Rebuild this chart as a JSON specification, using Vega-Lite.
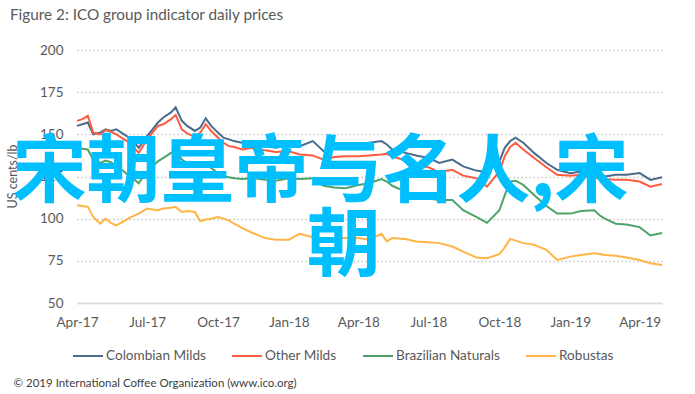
{
  "$schema": "https://vega.github.io/schema/vega-lite/v6.json",
  "width": 585,
  "height": 253,
  "autosize": {"type": "none"},
  "padding": {"left": 77, "top": 50, "right": 33, "bottom": 91},
  "background": "white",
  "config": {"view": {"stroke": null}, "font": "Lato"},
  "title": {
    "text": "Figure 2: ICO group indicator daily prices",
    "anchor": "start",
    "frame": "group",
    "dx": -67,
    "offset": 20,
    "fontSize": 15.3,
    "fontWeight": "normal",
    "color": "#595959",
    "font": "Lato"
  },
  "layer": [
    {
      "data": {
        "values": [
          {"date": "2017-04-01", "Colombian Milds": 155, "Other Milds": 158, "Brazilian Naturals": 142, "Robustas": 108},
          {"date": "2017-04-08", "Colombian Milds": 156, "Other Milds": 159, "Brazilian Naturals": 141.5, "Robustas": 107.5},
          {"date": "2017-04-15", "Colombian Milds": 157, "Other Milds": 161, "Brazilian Naturals": 141, "Robustas": 107},
          {"date": "2017-04-22", "Colombian Milds": 150, "Other Milds": 151, "Brazilian Naturals": 135, "Robustas": 101},
          {"date": "2017-05-01", "Colombian Milds": 151, "Other Milds": 150, "Brazilian Naturals": 133, "Robustas": 97},
          {"date": "2017-05-08", "Colombian Milds": 153, "Other Milds": 152.5, "Brazilian Naturals": 134.5, "Robustas": 100},
          {"date": "2017-05-15", "Colombian Milds": 152, "Other Milds": 151.5, "Brazilian Naturals": 133.5, "Robustas": 97.5},
          {"date": "2017-05-22", "Colombian Milds": 153, "Other Milds": 150, "Brazilian Naturals": 131, "Robustas": 96},
          {"date": "2017-06-01", "Colombian Milds": 150, "Other Milds": 147, "Brazilian Naturals": 128, "Robustas": 98.5},
          {"date": "2017-06-08", "Colombian Milds": 148, "Other Milds": 145, "Brazilian Naturals": 125, "Robustas": 100.5},
          {"date": "2017-06-15", "Colombian Milds": 145, "Other Milds": 141.5, "Brazilian Naturals": 123, "Robustas": 102},
          {"date": "2017-06-20", "Colombian Milds": 142, "Other Milds": 139, "Brazilian Naturals": 121, "Robustas": 103},
          {"date": "2017-07-01", "Colombian Milds": 149, "Other Milds": 147, "Brazilian Naturals": 128, "Robustas": 106},
          {"date": "2017-07-08", "Colombian Milds": 153, "Other Milds": 151, "Brazilian Naturals": 131, "Robustas": 105.5},
          {"date": "2017-07-15", "Colombian Milds": 157, "Other Milds": 155, "Brazilian Naturals": 134, "Robustas": 105},
          {"date": "2017-07-22", "Colombian Milds": 160, "Other Milds": 156, "Brazilian Naturals": 136, "Robustas": 106},
          {"date": "2017-08-01", "Colombian Milds": 163, "Other Milds": 159, "Brazilian Naturals": 139, "Robustas": 106.5},
          {"date": "2017-08-07", "Colombian Milds": 166, "Other Milds": 161.5, "Brazilian Naturals": 140.5, "Robustas": 107},
          {"date": "2017-08-15", "Colombian Milds": 158, "Other Milds": 153, "Brazilian Naturals": 135, "Robustas": 104},
          {"date": "2017-08-22", "Colombian Milds": 155, "Other Milds": 150.5, "Brazilian Naturals": 133, "Robustas": 104.5},
          {"date": "2017-09-01", "Colombian Milds": 152, "Other Milds": 148.5, "Brazilian Naturals": 131, "Robustas": 104},
          {"date": "2017-09-08", "Colombian Milds": 154, "Other Milds": 151, "Brazilian Naturals": 132, "Robustas": 98.5},
          {"date": "2017-09-15", "Colombian Milds": 159.5, "Other Milds": 156, "Brazilian Naturals": 133, "Robustas": 99.5},
          {"date": "2017-09-22", "Colombian Milds": 155, "Other Milds": 152, "Brazilian Naturals": 130, "Robustas": 100},
          {"date": "2017-10-01", "Colombian Milds": 151, "Other Milds": 148, "Brazilian Naturals": 127, "Robustas": 101},
          {"date": "2017-10-08", "Colombian Milds": 148, "Other Milds": 145, "Brazilian Naturals": 125.5, "Robustas": 100},
          {"date": "2017-10-15", "Colombian Milds": 147, "Other Milds": 143, "Brazilian Naturals": 124.5, "Robustas": 99},
          {"date": "2017-10-22", "Colombian Milds": 146, "Other Milds": 142.5, "Brazilian Naturals": 124, "Robustas": 97},
          {"date": "2017-11-01", "Colombian Milds": 145, "Other Milds": 141, "Brazilian Naturals": 123.5, "Robustas": 94.5},
          {"date": "2017-11-15", "Colombian Milds": 145, "Other Milds": 142, "Brazilian Naturals": 124, "Robustas": 91.5},
          {"date": "2017-12-01", "Colombian Milds": 143, "Other Milds": 140.5, "Brazilian Naturals": 123, "Robustas": 88.5},
          {"date": "2017-12-15", "Colombian Milds": 142, "Other Milds": 139.5, "Brazilian Naturals": 122.5, "Robustas": 87.5},
          {"date": "2018-01-01", "Colombian Milds": 144, "Other Milds": 140, "Brazilian Naturals": 124, "Robustas": 87.5},
          {"date": "2018-01-15", "Colombian Milds": 143, "Other Milds": 138, "Brazilian Naturals": 123.5, "Robustas": 91},
          {"date": "2018-02-01", "Colombian Milds": 146, "Other Milds": 137.5, "Brazilian Naturals": 124, "Robustas": 89},
          {"date": "2018-02-15", "Colombian Milds": 140, "Other Milds": 135, "Brazilian Naturals": 119.5, "Robustas": 88},
          {"date": "2018-03-01", "Colombian Milds": 142, "Other Milds": 136.5, "Brazilian Naturals": 118.5, "Robustas": 88.5},
          {"date": "2018-03-15", "Colombian Milds": 143, "Other Milds": 137, "Brazilian Naturals": 118, "Robustas": 88.5},
          {"date": "2018-04-01", "Colombian Milds": 143, "Other Milds": 137, "Brazilian Naturals": 120, "Robustas": 88.5},
          {"date": "2018-04-15", "Colombian Milds": 145, "Other Milds": 137.5, "Brazilian Naturals": 121, "Robustas": 87.5},
          {"date": "2018-05-01", "Colombian Milds": 146, "Other Milds": 138, "Brazilian Naturals": 123.5, "Robustas": 91},
          {"date": "2018-05-08", "Colombian Milds": 144, "Other Milds": 138.5, "Brazilian Naturals": 122, "Robustas": 86.5},
          {"date": "2018-05-15", "Colombian Milds": 141, "Other Milds": 137, "Brazilian Naturals": 119.5, "Robustas": 88.5},
          {"date": "2018-06-01", "Colombian Milds": 139, "Other Milds": 134.5, "Brazilian Naturals": 116, "Robustas": 88},
          {"date": "2018-06-15", "Colombian Milds": 137.5, "Other Milds": 132, "Brazilian Naturals": 113, "Robustas": 86.5},
          {"date": "2018-07-01", "Colombian Milds": 136, "Other Milds": 130.5, "Brazilian Naturals": 112, "Robustas": 86},
          {"date": "2018-07-15", "Colombian Milds": 133, "Other Milds": 127.5, "Brazilian Naturals": 111, "Robustas": 85.5},
          {"date": "2018-08-01", "Colombian Milds": 135, "Other Milds": 129, "Brazilian Naturals": 111, "Robustas": 83.5},
          {"date": "2018-08-15", "Colombian Milds": 131, "Other Milds": 125.5, "Brazilian Naturals": 105, "Robustas": 80.5},
          {"date": "2018-09-01", "Colombian Milds": 128.5, "Other Milds": 124, "Brazilian Naturals": 101, "Robustas": 77},
          {"date": "2018-09-15", "Colombian Milds": 127.5, "Other Milds": 119, "Brazilian Naturals": 97.5, "Robustas": 76.5},
          {"date": "2018-10-01", "Colombian Milds": 134, "Other Milds": 128, "Brazilian Naturals": 105, "Robustas": 79},
          {"date": "2018-10-08", "Colombian Milds": 142, "Other Milds": 137, "Brazilian Naturals": 114, "Robustas": 83},
          {"date": "2018-10-15", "Colombian Milds": 146, "Other Milds": 142.5, "Brazilian Naturals": 122, "Robustas": 88},
          {"date": "2018-10-22", "Colombian Milds": 148, "Other Milds": 145, "Brazilian Naturals": 122.5, "Robustas": 87},
          {"date": "2018-11-01", "Colombian Milds": 145, "Other Milds": 141, "Brazilian Naturals": 120, "Robustas": 85.5},
          {"date": "2018-11-15", "Colombian Milds": 139, "Other Milds": 136, "Brazilian Naturals": 114, "Robustas": 84.5},
          {"date": "2018-12-01", "Colombian Milds": 133, "Other Milds": 130.5, "Brazilian Naturals": 107.5, "Robustas": 81.5},
          {"date": "2018-12-15", "Colombian Milds": 129, "Other Milds": 126, "Brazilian Naturals": 103, "Robustas": 75.5},
          {"date": "2019-01-01", "Colombian Milds": 127, "Other Milds": 125.5, "Brazilian Naturals": 103, "Robustas": 77.5},
          {"date": "2019-01-15", "Colombian Milds": 128, "Other Milds": 126, "Brazilian Naturals": 104.5, "Robustas": 78.5},
          {"date": "2019-02-01", "Colombian Milds": 126, "Other Milds": 124, "Brazilian Naturals": 105, "Robustas": 79.5},
          {"date": "2019-02-08", "Colombian Milds": 125.5, "Other Milds": 124.5, "Brazilian Naturals": 102, "Robustas": 79},
          {"date": "2019-02-15", "Colombian Milds": 125, "Other Milds": 123.5, "Brazilian Naturals": 100, "Robustas": 78.5},
          {"date": "2019-03-01", "Colombian Milds": 126, "Other Milds": 123, "Brazilian Naturals": 97, "Robustas": 78},
          {"date": "2019-03-15", "Colombian Milds": 126, "Other Milds": 123, "Brazilian Naturals": 96.5, "Robustas": 77},
          {"date": "2019-04-01", "Colombian Milds": 127, "Other Milds": 122, "Brazilian Naturals": 95, "Robustas": 75.5},
          {"date": "2019-04-15", "Colombian Milds": 123, "Other Milds": 119, "Brazilian Naturals": 90, "Robustas": 73.5},
          {"date": "2019-04-30", "Colombian Milds": 124.5, "Other Milds": 120.5, "Brazilian Naturals": 91.5, "Robustas": 72.5}
        ]
      },
      "transform": [
        {"fold": ["Colombian Milds", "Other Milds", "Brazilian Naturals", "Robustas"], "as": ["series", "price"]}
      ],
      "mark": {"type": "line", "strokeWidth": 2},
      "encoding": {
        "x": {
          "field": "date",
          "type": "temporal",
          "title": "© 2019 International Coffee Organization (www.ico.org)",
          "scale": {
            "type": "utc",
            "domain": [
              {"year": 2017, "month": 4, "date": 1, "utc": true},
              {"year": 2019, "month": 4, "date": 30, "utc": true}
            ]
          },
          "axis": {
            "values": [
              {"year": 2017, "month": 4, "date": 1, "utc": true},
              {"year": 2017, "month": 7, "date": 1, "utc": true},
              {"year": 2017, "month": 10, "date": 1, "utc": true},
              {"year": 2018, "month": 1, "date": 1, "utc": true},
              {"year": 2018, "month": 4, "date": 1, "utc": true},
              {"year": 2018, "month": 7, "date": 1, "utc": true},
              {"year": 2018, "month": 10, "date": 1, "utc": true},
              {"year": 2019, "month": 1, "date": 1, "utc": true},
              {"year": 2019, "month": 4, "date": 1, "utc": true}
            ],
            "format": "%b-%y",
            "labelFlush": false,
            "labelOverlap": false,
            "grid": false,
            "ticks": false,
            "tickSize": 0,
            "domain": true,
            "domainColor": "#D9D9D9",
            "domainWidth": 1.5,
            "labelPadding": 12,
            "labelFontSize": 13.5,
            "labelColor": "#595959",
            "labelFont": "Lato",
            "titleX": -64,
            "titleY": 80,
            "titleAlign": "left",
            "titleBaseline": "middle",
            "titleFont": "Lato",
            "titleFontSize": 11.5,
            "titleFontWeight": "normal",
            "titleColor": "#404040"
          }
        },
        "y": {
          "field": "price",
          "type": "quantitative",
          "title": "US cents/lb",
          "scale": {"domain": [50, 200], "nice": false, "zero": false},
          "axis": {
            "values": [50, 75, 100, 125, 150, 175, 200],
            "grid": true,
            "gridDash": [1.5, 2.5],
            "gridColor": "#C4C4C4",
            "gridWidth": 1.3,
            "domain": false,
            "ticks": false,
            "tickSize": 0,
            "labelPadding": 14,
            "labelFontSize": 13.5,
            "labelColor": "#595959",
            "labelFont": "Lato",
            "titleFont": "Lato",
            "titleFontSize": 12.5,
            "titleFontWeight": "normal",
            "titleColor": "#595959",
            "titleX": -65,
            "titleY": 126,
            "titleAngle": -90,
            "titleAlign": "center",
            "titleBaseline": "middle"
          }
        },
        "color": {
          "field": "series",
          "type": "nominal",
          "scale": {
            "domain": ["Colombian Milds", "Other Milds", "Brazilian Naturals", "Robustas"],
            "range": ["#4A6B8C", "#FF5B41", "#4DA36A", "#FFB545"]
          },
          "legend": {
            "orient": "none",
            "legendX": -5,
            "legendY": 290,
            "direction": "horizontal",
            "title": null,
            "symbolType": "stroke",
            "symbolSize": 900,
            "symbolStrokeWidth": 2,
            "labelFontSize": 13.6,
            "labelFont": "Lato",
            "labelColor": "#595959",
            "labelOffset": 2,
            "columnPadding": 22,
            "gridAlign": "none"
          }
        }
      }
    },
    {
      "data": {"values": [{"t": "宋朝皇帝与名人,宋"}]},
      "mark": {"type": "text", "font": "Noto Sans CJK SC", "fontSize": 74, "fontWeight": "bold", "color": "#00BFFF", "align": "center", "baseline": "middle"},
      "encoding": {
        "x": {"datum": {"year": 2018, "month": 2, "date": 11, "utc": true}, "type": "temporal"},
        "y": {"datum": 126.5, "type": "quantitative"},
        "text": {"field": "t"}
      }
    },
    {
      "data": {"values": [{"t": "朝"}]},
      "mark": {"type": "text", "font": "Noto Sans CJK SC", "fontSize": 74, "fontWeight": "bold", "color": "#00BFFF", "align": "center", "baseline": "middle"},
      "encoding": {
        "x": {"datum": {"year": 2018, "month": 3, "date": 13, "utc": true}, "type": "temporal"},
        "y": {"datum": 82.6, "type": "quantitative"},
        "text": {"field": "t"}
      }
    }
  ]
}
